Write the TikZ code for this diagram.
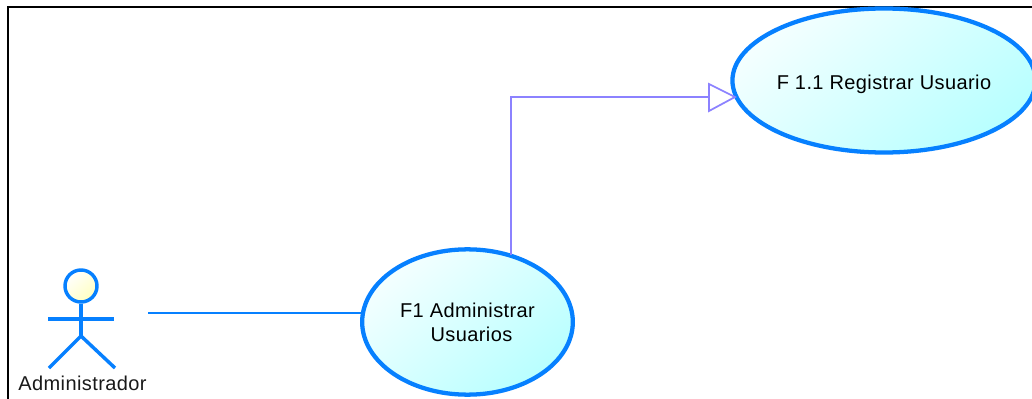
\documentclass[tikz,border=0pt]{standalone}
\usepackage{fontspec}
\setmainfont[LetterSpace=2]{Liberation Sans}
\usetikzlibrary{shapes.geometric,arrows.meta}
\definecolor{ucblue}{HTML}{0680FF}
\definecolor{genline}{HTML}{8C82FF}
\definecolor{ucfill}{HTML}{B8FFFF}
\definecolor{uclight}{HTML}{F4FFFF}
\definecolor{headfill}{HTML}{FFFFC0}
\tikzset{
  usecase/.style={ellipse,draw=ucblue,line width=3.2pt,inner sep=0pt,minimum width=#1,align=center,font=\fontsize{15pt}{18pt}\selectfont,
    top color=uclight,bottom color=ucfill,shading angle=40},
  limb/.style={draw=ucblue,line width=2.6pt},
  assoc/.style={draw=ucblue,line width=1.4pt},
  gen/.style={draw=genline,line width=1.3pt},
  frameline/.style={draw=black,line width=1.4pt},
  lab/.style={font=\fontsize{15pt}{16pt}\selectfont,text=black!90,inner sep=0pt},
}
\begin{document}
\begin{tikzpicture}[x=0.75pt,y=-0.75pt]
\useasboundingbox (0,0) rectangle (1032,399);
\fill[white] (0,0) rectangle (1032,399);
\coordinate (fa) at (8,399);
\coordinate (fb) at (8,7);
\coordinate (fc) at (1032,7);
\draw[frameline] (fa) -- (fb) -- (fc);
% use cases
\node[usecase=158pt,minimum height=109pt] (f1) at (467.5,322) {F1 Administrar\\\hspace{6pt}Usuarios};
\node[usecase=227pt,minimum height=108pt] (f11) at (884,80.5) {\raisebox{-3pt}[0.75em][0.25em]{F 1.1 Registrar Usuario}};
% actor
\node[circle,draw=ucblue,line width=2.6pt,minimum size=24pt,inner sep=0pt,top color=white,bottom color=headfill,shading angle=40] (head) at (81,286) {};
\coordinate (hip) at (81,336);
\coordinate (armL) at (48,319);
\coordinate (armR) at (114,319);
\coordinate (legL) at (49,368);
\coordinate (legR) at (115,368);
\draw[limb] (head.south) -- (hip);
\draw[limb] (armL) -- (armR);
\draw[limb] (legL) -- (hip) -- (legR);
\node[lab] (actor) at (82.5,383) {Administrador};
% connectors
\coordinate (assocStart) at (148,313);
\draw[assoc,shorten >=-2pt] (assocStart) -- (assocStart -| f1.west);
\coordinate (gs) at (511,255);
\coordinate (bend) at (511,97);
\coordinate (tipbase) at (709,97);
\coordinate (tip) at (735,97);
\draw[gen] (gs) -- (bend) -- (tipbase);
\draw[gen,line join=miter,fill=white] (709,84) -- (tip) -- (709,111) -- cycle;
\end{tikzpicture}
\end{document}
